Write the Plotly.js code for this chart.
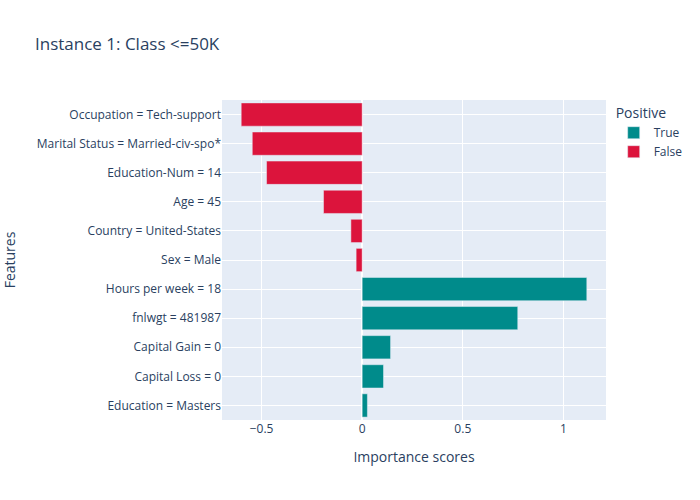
<!DOCTYPE html>
<html>
<head>
<meta charset="utf-8">
<script src="https://cdn.plot.ly/plotly-3.0.1.min.js"></script>
<style>html,body{margin:0;padding:0;}#chart{width:700px;height:500px;}</style>
</head>
<body>
<div id="chart"></div>
<script>
var categoryOrder = ["Education = Masters", "Capital Loss = 0", "Capital Gain = 0", "fnlwgt = 481987", "Hours per week = 18", "Sex = Male", "Country = United-States", "Age = 45", "Education-Num = 14", "Marital Status = Married-civ-spo*", "Occupation = Tech-support"];

var trueFeatures = ["Hours per week = 18", "fnlwgt = 481987", "Capital Gain = 0", "Capital Loss = 0", "Education = Masters"];
var trueScores = [1.116, 0.773, 0.141, 0.106, 0.026];

var falseFeatures = ["Occupation = Tech-support", "Marital Status = Married-civ-spo*", "Education-Num = 14", "Age = 45", "Country = United-States", "Sex = Male"];
var falseScores = [-0.601, -0.546, -0.475, -0.192, -0.056, -0.030];

var data = [
  {type: "bar", orientation: "h", name: "True", x: trueScores, y: trueFeatures,
   marker: {color: "#008B8B", line: {color: "#E5ECF6", width: 0.5}}},
  {type: "bar", orientation: "h", name: "False", x: falseScores, y: falseFeatures,
   marker: {color: "#DC143C", line: {color: "#E5ECF6", width: 0.5}}}
];

var layout = {
  width: 700, height: 500,
  font: {family: "Open Sans, Verdana, Arial, sans-serif", size: 12, color: "#2a3f5f"},
  paper_bgcolor: "white", plot_bgcolor: "#E5ECF6",
  title: {text: "Instance 1: Class <=50K", font: {size: 17}, x: 0.05},
  barmode: "relative",
  xaxis: {title: {text: "Importance scores", font: {size: 14}, standoff: 16}, gridcolor: "white", zeroline: true, zerolinecolor: "white", zerolinewidth: 2, automargin: false},
  yaxis: {title: {text: "Features", font: {size: 14}, standoff: 18}, categoryorder: "array", categoryarray: categoryOrder, gridcolor: "white", automargin: false},
  legend: {title: {text: "Positive"}},
  margin: {t: 100, b: 80, l: 222, r: 94}
};

Plotly.newPlot("chart", data, layout, {displayModeBar: false});
</script>
</body>
</html>
